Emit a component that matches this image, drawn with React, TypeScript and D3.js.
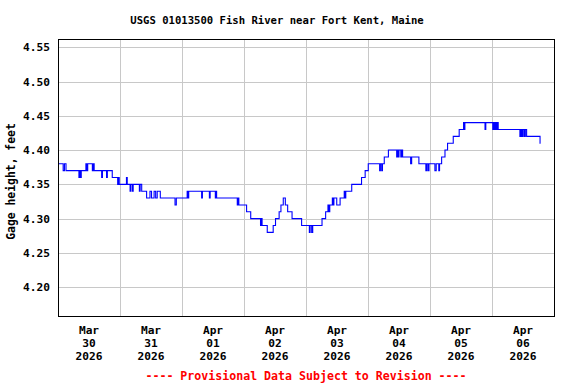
import React from 'react';
import * as d3 from 'd3';

// gage height breakpoints: hours after Mar 30 2026 00:00, feet (15-min data, step plot)
const stepHours = [
  0, 2.0, 2.5, 3.1, 8.1, 8.5, 8.7, 9.0, 10.8, 11.1, 11.5, 13.3, 13.6, 14.0, 16.9, 17.2, 18.8, 19.1,
  21.0, 23.1, 23.4, 23.7, 26.5, 26.8, 27.9, 28.2, 28.8, 29.1, 31.5, 31.8, 32.4, 34.3, 35.6, 36.2,
  37.2, 37.8, 38.4, 39.6, 45.3, 45.8, 50.0, 50.3, 50.6, 55.6, 55.9, 58.6, 58.9, 60.9, 61.1, 61.4,
  69.4, 69.7, 70.0, 73.0, 74.6, 78.4, 78.7, 79.0, 81.0, 83.3, 84.2, 85.6, 86.3, 87.2, 88.0, 88.9,
  90.6, 94.3, 97.3, 97.6, 98.2, 98.6, 102.2, 103.6, 104.5, 104.8, 105.2, 106.2, 106.5, 106.8, 107.9,
  109.2, 110.8, 111.1, 111.4, 113.7, 117.5, 118.9, 120.1, 124.5, 124.8, 125.3, 125.6, 126.3, 127.9,
  131.1, 131.4, 131.7, 132.0, 132.7, 133.0, 133.4, 136.5, 136.9, 139.7, 142.4, 142.8, 143.3, 143.6,
  145.9, 146.4, 147.4, 147.7, 148.5, 149.8, 150.8, 153.0, 155.3, 157.0, 157.2, 157.5, 165.3, 165.6,
  168.3, 168.6, 169.0, 169.3, 169.7, 170.0, 170.4, 178.8, 179.2, 179.6, 180.0, 180.5, 180.9, 181.4,
  186.6, 186.8,
];
const stepValues = [
  4.38, 4.37, 4.38, 4.37, 4.36, 4.37, 4.36, 4.37, 4.38, 4.37, 4.38, 4.37, 4.38, 4.37, 4.36, 4.37, 4.36, 4.37,
  4.36, 4.35, 4.36, 4.35, 4.36, 4.35, 4.34, 4.35, 4.34, 4.35, 4.34, 4.35, 4.34, 4.33, 4.34, 4.33,
  4.34, 4.33, 4.34, 4.33, 4.32, 4.33, 4.34, 4.33, 4.34, 4.33, 4.34, 4.33, 4.34, 4.33, 4.34, 4.33,
  4.32, 4.33, 4.32, 4.31, 4.30, 4.29, 4.30, 4.29, 4.28, 4.29, 4.30, 4.31, 4.32, 4.33, 4.32, 4.31,
  4.30, 4.29, 4.28, 4.29, 4.28, 4.29, 4.30, 4.31, 4.32, 4.31, 4.32, 4.33, 4.32, 4.33, 4.32,
  4.33, 4.34, 4.33, 4.34, 4.35, 4.36, 4.37, 4.38, 4.37, 4.38, 4.37, 4.38, 4.39, 4.40,
  4.39, 4.40, 4.39, 4.40, 4.39, 4.40, 4.39, 4.38, 4.39, 4.38, 4.37, 4.38, 4.37, 4.38,
  4.37, 4.38, 4.37, 4.38, 4.39, 4.40, 4.41, 4.42, 4.43, 4.44, 4.43, 4.44, 4.43, 4.44,
  4.43, 4.44, 4.43, 4.44, 4.43, 4.44, 4.43, 4.42, 4.43, 4.42, 4.43, 4.42, 4.43, 4.42,
  4.41, 4.41,
];

const yTicks = [4.20, 4.25, 4.30, 4.35, 4.40, 4.45, 4.50, 4.55];
const dayMonths = ['Mar', 'Mar', 'Apr', 'Apr', 'Apr', 'Apr', 'Apr', 'Apr'];
const dayNums = ['30', '31', '01', '02', '03', '04', '05', '06'];
const dayYears = ['2026', '2026', '2026', '2026', '2026', '2026', '2026', '2026'];

const start = new Date(2026, 2, 30);
const end = new Date(2026, 3, 7);
const HOUR = 3600 * 1000;

export default function App() {
  const width = 576, height = 384;
  const left = 58, right = 554, top = 39, bottom = 316;

  const x = d3.scaleTime().domain([start, end]).range([left, right]);
  const y = d3.scaleLinear().domain([4.158, 4.562]).range([bottom, top]);

  const pts: [Date, number][] = stepHours.map((h, i) => [new Date(start.getTime() + h * HOUR), stepValues[i]]);
  const line = d3.line<[Date, number]>()
    .x(d => x(d[0]))
    .y(d => y(d[1]))
    .curve(d3.curveStepAfter);

  const midnights = d3.timeDay.range(d3.timeDay.offset(start, 1), end);
  const noons = d3.timeDay.range(start, end).map(d => new Date(d.getTime() + 12 * HOUR));

  const font = '"DejaVu Sans Mono", monospace';

  return (
    <svg width={width} height={height} style={{ position: 'absolute', left: 0, top: 0 }}
      fontFamily={font} fontWeight="bold">
      <rect x={0} y={0} width={width} height={height} fill="#fff" />
      <text x={277} y={24} textAnchor="middle" fontSize={10.6}>
        USGS 01013500 Fish River near Fort Kent, Maine
      </text>

      {yTicks.map(t => (
        <line key={'gy' + t} x1={left} x2={right} y1={Math.round(y(t)) + 0.5} y2={Math.round(y(t)) + 0.5}
          stroke="#c8c8c8" strokeWidth={1} />
      ))}
      {midnights.map(d => (
        <line key={'gx' + d.getTime()} x1={Math.round(x(d)) + 0.5} x2={Math.round(x(d)) + 0.5} y1={top} y2={bottom}
          stroke="#c8c8c8" strokeWidth={1} />
      ))}

      <path d={line(pts) || ''} fill="none" stroke="#0000ff" strokeWidth={1.1} />

      <rect x={left + 0.5} y={top + 0.5} width={right - left} height={bottom - top}
        fill="none" stroke="#000" strokeWidth={1} />

      {yTicks.map(t => (
        <text key={'ty' + t} x={50} y={y(t) + 4} textAnchor="end" fontSize={11.2}>{t.toFixed(2)}</text>
      ))}
      <text transform={`translate(15,${(top + bottom) / 2 + 4}) rotate(-90)`} textAnchor="middle" fontSize={11.4}>
        Gage height, feet
      </text>

      {noons.map((d, i) => (
        <text key={'tx' + i} x={x(d)} textAnchor="middle" fontSize={11.2}>
          <tspan x={x(d)} y={334}>{dayMonths[i]}</tspan>
          <tspan x={x(d)} y={347}>{dayNums[i]}</tspan>
          <tspan x={x(d)} y={360}>{dayYears[i]}</tspan>
        </text>
      ))}

      <text x={(left + right) / 2} y={380} textAnchor="middle" fontSize={11.6} fill="#ff0000">
        ---- Provisional Data Subject to Revision ----
      </text>
    </svg>
  );
}
